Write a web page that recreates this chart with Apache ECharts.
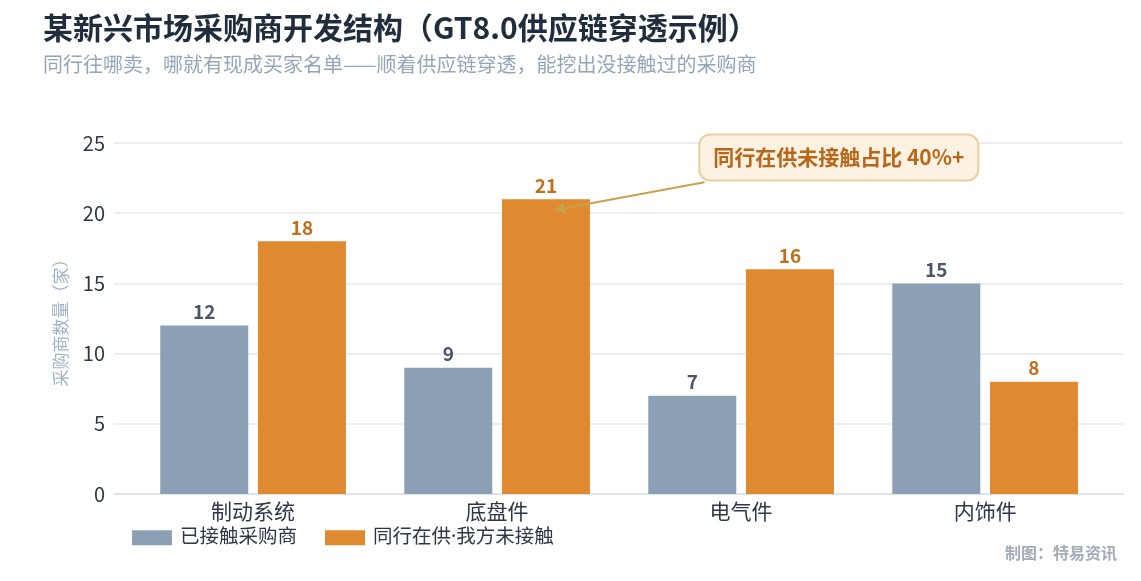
<!DOCTYPE html>
<html>
<head>
<meta charset="utf-8">
<script src="https://cdn.jsdelivr.net/npm/echarts@6/dist/echarts.min.js"></script>
<style>
  html, body { margin: 0; padding: 0; background: #fff; }
  #main { width: 1141px; height: 581px; }
</style>
</head>
<body>
<div id="main"></div>
<script>
var categories = ['制动系统', '底盘件', '电气件', '内饰件'];
var contacted = [12, 9, 7, 15];      // 已接触采购商
var peerNotContacted = [18, 21, 16, 8]; // 同行在供·我方未接触
var yTicks = { min: 0, max: 25, interval: 5 };

var FONT = '"Noto Sans CJK SC", "Noto Sans", sans-serif';

// 柱子数据：[类目序号, 数值]
function toPairs(arr) {
    var out = [];
    for (var i = 0; i < arr.length; i++) out.push([i, arr[i]]);
    return out;
}

var chart = echarts.init(document.getElementById('main'));

var option = {
    animation: false,
    textStyle: { fontFamily: FONT },
    title: {
        text: '某新兴市场采购商开发结构（GT8.0供应链穿透示例）',
        subtext: '同行往哪卖，哪就有现成买家名单——顺着供应链穿透，能挖出没接触过的采购商',
        left: 38,
        top: 8,
        itemGap: 11,
        textStyle: { fontSize: 30, fontWeight: 'bold', color: '#1f2d3d', fontFamily: FONT },
        subtextStyle: { fontSize: 20, color: '#93a6ba', fontFamily: FONT }
    },
    legend: {
        left: 127,
        top: 523,
        icon: 'rect',
        itemWidth: 40,
        itemHeight: 15,
        itemGap: 28,
        textStyle: {
            fontSize: 19.5,
            color: '#2d3748',
            padding: [0, 0, 0, 3],
            fontFamily: '"Noto Sans", "Noto Sans CJK SC", sans-serif'
        },
        data: ['已接触采购商', '同行在供·我方未接触']
    },
    grid: { left: 114, right: 18, top: 143, bottom: 87, containLabel: false },
    xAxis: {
        type: 'value',
        min: -0.57,
        max: 3.565,
        axisLine: { show: true, onZero: false, lineStyle: { color: '#dfe4ec', width: 2 } },
        axisTick: { show: false },
        splitLine: { show: false },
        axisLabel: {
            customValues: [0, 1, 2, 3],
            formatter: function (v) { return categories[Math.round(v)] || ''; },
            fontSize: 21,
            color: '#2d3748',
            margin: 7
        }
    },
    yAxis: {
        type: 'value',
        min: yTicks.min,
        max: yTicks.max,
        interval: yTicks.interval,
        name: '采购商数量（家）',
        nameLocation: 'middle',
        nameGap: 45,
        nameTextStyle: { fontSize: 17, color: '#9fb2c4' },
        axisLine: { show: false },
        axisTick: { show: false },
        axisLabel: { fontSize: 20, color: '#2d3748', margin: 9 },
        splitLine: { lineStyle: { color: '#eaeef3', width: 2 } }
    },
    series: [{
        name: '已接触采购商',
        type: 'bar',
        data: toPairs(contacted),
        barWidth: 88,
        barGap: '11%',
        itemStyle: { color: '#8ba0b4' },
        label: {
            show: true,
            position: 'top',
            distance: 4,
            fontSize: 19,
            fontWeight: 'bold',
            color: '#4a5568'
        }
    }, {
        name: '同行在供·我方未接触',
        type: 'bar',
        data: toPairs(peerNotContacted),
        barWidth: 88,
        barGap: '11%',
        itemStyle: { color: '#df8a30' },
        label: {
            show: true,
            position: 'top',
            distance: 4,
            fontSize: 19,
            fontWeight: 'bold',
            color: '#c0701c'
        },
        // 箭头：从标注框指向“底盘件”的橙色柱（柱系列的标记会随柱偏移，故减去约0.2）
        markLine: {
            silent: true,
            symbol: ['none', 'arrow'],
            symbolSize: 10,
            label: { show: false },
            lineStyle: { color: '#c9a24e', width: 2, type: 'solid' },
            data: [[{ coord: [1.65, 22.2] }, { coord: [1.04, 20.25] }]]
        },
        // 标注框
        markPoint: {
            silent: true,
            symbol: 'circle',
            symbolSize: 1,
            itemStyle: { color: 'rgba(0,0,0,0)' },
            label: {
                show: true,
                position: 'inside',
                formatter: '同行在供未接触占比 40%+',
                fontSize: 21,
                fontWeight: 'bold',
                color: '#b8671a',
                backgroundColor: '#fdf1e1',
                borderColor: '#e9cf9f',
                borderWidth: 2,
                borderRadius: 10,
                padding: [12, 13, 11, 13]
            },
            data: [{ coord: [2.2, 23.97] }]
        }
    }],
    graphic: [{
        type: 'text',
        right: 24,
        top: 545,
        style: {
            text: '制图：特易资讯',
            fontSize: 16,
            fontWeight: 'bold',
            fill: '#a3adb8',
            fontFamily: FONT
        }
    }]
};

chart.setOption(option);
</script>
</body>
</html>
